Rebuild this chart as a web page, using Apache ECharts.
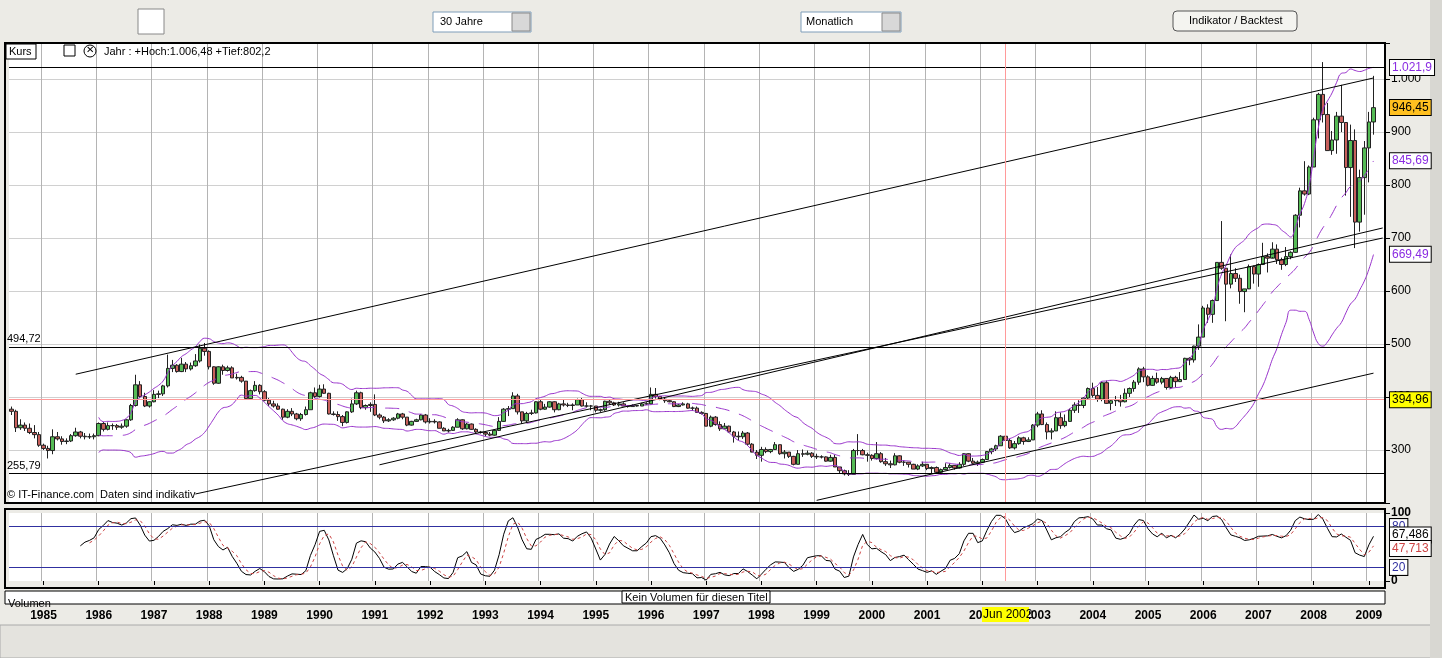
<!DOCTYPE html>
<html>
<head>
<meta charset="utf-8">
<script src="https://cdn.jsdelivr.net/npm/echarts@6/dist/echarts.min.js"></script>
<style>
html,body{margin:0;padding:0;background:#ecebe6;}
#chart{width:1442px;height:658px;}
</style>
</head>
<body>
<div id="chart"></div>
<script>
// Monatskerzen Jun 1984 - Feb 2009 (Open = Vormonats-Close)
var firstOpen = 377;
var closes = [
 373,342,347,341,333,329,309,
 303,299,325,321,316,317,327,334,326,325,325,327,
 350,339,346,346,343,345,357,384,423,401,383,391,
 405,406,421,454,460,448,462,453,459,468,492,486,
 457,426,457,450,455,436,437,430,397,412,422,410,
 394,387,383,377,362,373,368,359,367,376,408,401,
 415,407,368,367,363,352,372,387,408,380,384,386,
 366,362,355,357,360,368,362,347,354,357,366,353,
 354,353,341,336,337,343,357,340,349,339,334,333,
 330,328,337,354,377,378,402,372,355,369,370,391,
 377,381,391,376,387,385,384,385,395,383,383,383,
 375,376,392,389,385,387,383,382,384,383,387,387,
 405,401,396,393,391,382,385,387,379,379,371,369,
 345,362,348,340,345,334,326,325,332,311,296,290,
 301,297,301,310,293,296,288,273,293,292,294,288,
 287,287,279,286,268,261,255,254,299,299,291,290,
 284,293,278,274,272,289,277,277,273,264,270,273,
 265,267,258,263,267,271,266,273,293,279,275,277,
 282,297,302,308,326,318,304,312,323,316,319,347,
 368,348,334,336,361,346,354,375,385,384,398,416,
 403,396,427,388,393,395,391,407,416,428,453,438,
 422,435,428,435,418,437,429,433,473,470,496,513,
 568,556,582,654,643,613,633,624,599,604,646,632,
 650,665,662,679,659,650,665,673,743,789,783,834,
 923,971,933,865,885,930,918,833,884,730,814,870,
 919,946];
var highs = [
 382,376,358,352,350,347,334,
 312,308,339,334,326,322,330,342,336,332,331,331,
 352,353,352,350,349,350,358,387,442,430,408,392,
 413,412,423,480,470,462,474,466,465,481,499,502,
 488,458,458,461,459,458,444,440,430,414,430,424,
 413,398,393,388,378,377,379,370,370,382,410,418,
 423,424,408,373,373,366,373,397,412,410,386,390,
 405,369,364,360,362,370,370,362,355,359,368,368,
 360,358,354,343,340,345,360,358,351,350,341,336,
 335,334,338,362,379,383,409,406,372,372,376,392,
 396,387,392,392,389,396,389,388,397,398,390,385,
 383,378,393,396,391,391,390,384,386,385,389,390,
 418,417,402,399,395,392,387,390,389,382,382,373,
 370,365,364,354,351,346,336,335,336,334,313,300,
 306,305,302,315,310,300,296,289,300,301,299,296,
 293,290,288,291,291,268,263,262,302,330,302,295,
 292,315,296,285,280,294,290,281,277,274,273,278,
 273,269,269,265,275,275,270,277,294,294,285,280,
 284,298,304,310,328,331,321,317,326,325,324,349,
 372,375,352,341,373,371,367,378,390,394,400,418,
 427,419,429,431,396,402,404,416,418,432,456,457,
 441,440,446,438,435,440,440,447,474,475,497,537,
 572,575,584,654,732,643,669,643,631,604,650,648,
 652,691,671,692,688,663,683,675,745,795,845,837,
 927,974,1032,955,902,938,989,918,914,905,829,883,
 938,1006];
var lows = [
 366,334,338,336,330,322,306,
 300,284,292,318,310,311,315,325,322,320,321,320,
 326,335,337,338,338,340,342,355,382,398,381,380,
 390,398,402,418,447,446,447,447,450,457,465,478,
 452,423,425,442,448,436,433,427,395,395,410,405,
 392,383,380,376,357,360,364,356,355,365,376,398,
 399,406,367,365,355,345,350,370,385,377,376,372,
 364,358,351,353,355,358,358,345,346,353,356,350,
 350,350,341,336,333,336,343,338,339,338,331,331,
 326,326,327,336,353,364,378,367,350,352,366,369,
 375,376,380,371,375,382,381,375,385,382,380,375,
 371,372,374,386,383,382,383,380,382,382,383,385,
 386,397,394,389,390,381,381,384,378,374,371,367,
 345,343,346,336,340,332,314,318,321,308,297,283,
 278,294,294,300,291,284,285,271,273,287,290,285,
 283,284,278,278,268,256,252,251,254,290,290,278,
 280,282,276,270,266,271,275,270,267,264,262,268,
 262,256,255,256,262,265,263,265,270,277,272,270,
 276,282,292,298,308,318,302,301,310,310,315,319,
 343,347,320,320,336,340,343,353,370,370,379,396,
 399,391,392,387,375,383,382,390,400,410,423,428,
 420,421,425,424,414,415,418,429,433,460,465,489,
 513,540,540,582,640,543,605,617,576,560,605,614,
 608,650,635,664,651,640,647,660,672,720,780,781,
 834,888,918,865,857,859,900,780,740,681,712,744,
 805,895];

var months = [];
for (var i = 0; i < closes.length + 2; i++) {
  var y = 1984 + Math.floor((i + 5) / 12), m = (i + 5) % 12 + 1;
  months.push(y + '-' + (m < 10 ? '0' + m : m));
}

var candles = closes.map(function (c, i) {
  var o = i === 0 ? firstOpen : closes[i - 1];
  return [o, c, lows[i], highs[i]];
});

// Bollinger 20 / 2
var mid = [], up = [], dn = [];
for (var i = 0; i < closes.length; i++) {
  if (i < 19) { mid.push('-'); up.push('-'); dn.push('-'); continue; }
  var s = 0, q = 0;
  for (var j = i - 19; j <= i; j++) s += closes[j];
  var mean = s / 20;
  for (var j = i - 19; j <= i; j++) q += (closes[j] - mean) * (closes[j] - mean);
  var sd = Math.sqrt(q / 20);
  mid.push(mean); up.push(mean + 2 * sd); dn.push(mean - 2 * sd);
}

// Stochastik 14 / 3 / 3
var rawK = [];
for (var i = 0; i < closes.length; i++) {
  if (i < 13) { rawK.push(null); continue; }
  var hh = -1e9, ll = 1e9;
  for (var j = i - 13; j <= i; j++) { hh = Math.max(hh, highs[j]); ll = Math.min(ll, lows[j]); }
  rawK.push((closes[i] - ll) / (hh - ll) * 100);
}
function sma(arr, n) {
  return arr.map(function (v, i) {
    if (i < n - 1) return '-';
    var s = 0;
    for (var j = i - n + 1; j <= i; j++) { if (arr[j] === null || arr[j] === '-') return '-'; s += arr[j]; }
    return s / n;
  });
}
var stK = sma(rawK, 3), stD = sma(stK, 3);

var isJan = function (idx, val) { return /-01$/.test(val); };

var chart = echarts.init(document.getElementById('chart'));

function box(val, txt, color, bg) {
  return {
    yAxis: val, lineStyle: {color: 'rgba(0,0,0,0)'},
    label: {show: true, position: 'end', distance: 5, formatter: txt, color: color, opacity: 1,
      backgroundColor: bg || '#fff', borderColor: '#000', borderWidth: 1, padding: [2, 2, 1, 2],
      fontSize: 12, fontFamily: 'Liberation Sans'}
  };
}

chart.setOption({
  animation: false,
  backgroundColor: '#ecebe6',
  textStyle: {fontFamily: 'Liberation Sans'},
  grid: [
    {left: 9, right: 57, top: 43, bottom: 155, show: true, backgroundColor: '#fff', borderWidth: 0},
    {left: 9, right: 57, top: 513, bottom: 77, show: true, backgroundColor: '#fff', borderWidth: 0}
  ],
  xAxis: [
    {type: 'category', data: months, gridIndex: 0, axisLine: {show: false}, axisTick: {show: false},
      axisLabel: {show: false}, splitLine: {show: true, interval: isJan, lineStyle: {color: '#b4b4b4'}}},
    {type: 'category', data: months, gridIndex: 1, axisLine: {show: false},
      axisTick: {show: true, interval: isJan, alignWithLabel: true, length: 4, lineStyle: {color: '#000'}},
      axisLabel: {interval: isJan, margin: 29, fontWeight: 'bold', fontSize: 12, color: '#000',
        formatter: function (v) { return v.slice(0, 4); }},
      splitLine: {show: true, interval: isJan, lineStyle: {color: '#b4b4b4'}}}
  ],
  yAxis: [
    {type: 'value', gridIndex: 0, position: 'right', min: 200, max: 1068, interval: 100,
      axisLine: {show: false}, axisTick: {show: true, length: 5, lineStyle: {color: '#000'}},
      axisLabel: {color: '#000', fontSize: 12, margin: 6,
        formatter: function (v) { if (v < 300 || v % 100) return ''; return v === 1000 ? '1.000' : v; }},
      splitLine: {lineStyle: {color: '#d0d0d0'}}},
    {type: 'value', gridIndex: 1, position: 'right', min: 0, max: 100, interval: 100,
      axisLine: {show: false}, axisTick: {show: true, length: 5, lineStyle: {color: '#000'}},
      axisLabel: {color: '#000', fontSize: 12, fontWeight: 'bold', margin: 6}, splitLine: {show: false}}
  ],
  series: [
    {type: 'candlestick', name: 'Kurs', data: candles, barWidth: 4, clip: false,
      itemStyle: {color: '#55bb55', color0: '#c8605c', borderColor: '#222', borderColor0: '#222', borderWidth: 1},
      markLine: {
        symbol: 'none', silent: true, animation: false,
        lineStyle: {color: '#000', width: 1, type: 'solid'}, label: {show: false},
        data: [
          [{coord: ['1985-08', 443]}, {coord: ['2009-02', 1002]}],
          [{coord: ['1991-02', 272]}, {coord: ['2009-04', 719]}],
          [{coord: ['1987-10', 217]}, {coord: ['2009-04', 700]}],
          [{coord: ['1999-01', 205]}, {coord: ['2009-02', 445]}],
          {yAxis: 494.72, label: {show: true, position: 'insideStartTop', distance: [-2, 2], formatter: '494,72', color: '#000', fontSize: 11}},
          {yAxis: 255.79, label: {show: true, position: 'insideStartTop', distance: [-2, 2], formatter: '255,79', color: '#000', fontSize: 11}},
          {yAxis: 1021.9, label: {show: false}},
          {yAxis: 394.96, lineStyle: {color: '#ff9a9a'}},
          {xAxis: '2002-06', lineStyle: {color: '#ff9a9a'}},
          box(1021.9, '1.021,9', '#8a2be2'),
          box(946.45, '946,45', '#000', '#ffc020'),
          box(845.69, '845,69', '#8a2be2'),
          box(669.49, '669,49', '#8a2be2'),
          box(394.96, '394,96', '#000', '#ffff00')
        ]
      }},
    {type: 'line', data: up, symbol: 'none', smooth: true, lineStyle: {color: '#9933cc', width: 1}},
    {type: 'line', data: dn, symbol: 'none', smooth: true, lineStyle: {color: '#9933cc', width: 1}},
    {type: 'line', data: mid, symbol: 'none', smooth: true, lineStyle: {color: '#9933cc', width: 1, type: [14, 10]}},
    {type: 'line', xAxisIndex: 1, yAxisIndex: 1, data: stK, symbol: 'none', clip: false, lineStyle: {color: '#000', width: 1},
      markLine: {
        symbol: 'none', silent: true, animation: false, label: {show: false},
        lineStyle: {color: '#3030a0', width: 1, type: 'solid'},
        data: [
          {yAxis: 80}, {yAxis: 20},
          {xAxis: '2002-06', lineStyle: {color: '#ff9a9a'}},
          box(80, '80', '#3030a0'),
          box(67.486, '67,486', '#000'),
          box(47.713, '47,713', '#cc4444'),
          box(20, '20', '#3030a0')
        ]
      }},
    {type: 'line', xAxisIndex: 1, yAxisIndex: 1, data: stD, symbol: 'none', lineStyle: {color: '#cc4444', width: 1, type: [3, 3]}}
  ],
  graphic: [
    // Rahmen
    {type: 'rect', shape: {x: 5, y: 43, width: 1380, height: 460}, style: {fill: 'none', stroke: '#000', lineWidth: 2}, z: 100},
    {type: 'rect', shape: {x: 5, y: 509, width: 1380, height: 79}, style: {fill: 'none', stroke: '#000', lineWidth: 2}, z: 100},
    {type: 'rect', shape: {x: 5, y: 591, width: 1380, height: 13}, style: {fill: '#fff', stroke: '#000', lineWidth: 1}, z: 100},
    {type: 'text', x: 8, y: 598, style: {text: 'Volumen', fontSize: 11, fill: '#000'}, z: 101},
    {type: 'rect', shape: {x: 622, y: 591, width: 148, height: 12}, style: {fill: '#fff', stroke: '#000'}, z: 101},
    {type: 'text', x: 625, y: 592, style: {text: 'Kein Volumen für diesen Titel', fontSize: 11, fill: '#000'}, z: 102},
    // Kopfzeile
    {type: 'rect', shape: {x: 6, y: 44, width: 30, height: 15}, style: {fill: '#fff', stroke: '#000'}, z: 101},
    {type: 'text', x: 9, y: 46, style: {text: 'Kurs', fontSize: 11, fill: '#000'}, z: 102},
    {type: 'rect', shape: {x: 64, y: 45, width: 11, height: 11}, style: {fill: '#fff', stroke: '#000'}, z: 101},
    {type: 'circle', shape: {cx: 90, cy: 51, r: 6}, style: {fill: '#fff', stroke: '#000'}, z: 101},
    {type: 'text', x: 86, y: 45, style: {text: '✕', fontSize: 10, fill: '#000'}, z: 102},
    {type: 'text', x: 104, y: 46, style: {text: 'Jahr : +Hoch:1.006,48 +Tief:802,2', fontSize: 11, fill: '#000'}, z: 102},
    {type: 'text', x: 7, y: 489, style: {text: '© IT-Finance.com  Daten sind indikativ', fontSize: 11, fill: '#000'}, z: 102},
    // Crosshair Datum
    {type: 'rect', shape: {x: 982, y: 607, width: 47, height: 15}, style: {fill: '#ffff00'}, z: 101},
    {type: 'text', x: 983, y: 609, style: {text: 'Jun 2002', fontSize: 12, fill: '#000'}, z: 102},
    // Werkzeugleiste oben
    {type: 'rect', shape: {x: 0, y: 0, width: 1442, height: 40}, style: {fill: '#ecebe6'}},
    {type: 'rect', shape: {x: 138, y: 9, width: 26, height: 25}, style: {fill: '#fff', stroke: '#888'}},
    {type: 'rect', shape: {x: 433, y: 12, width: 98, height: 20}, style: {fill: '#fff', stroke: '#7f9db9'}},
    {type: 'text', x: 440, y: 16, style: {text: '30 Jahre', fontSize: 11, fill: '#000'}},
    {type: 'rect', shape: {x: 512, y: 13, width: 18, height: 18}, style: {fill: '#d8d8d8', stroke: '#888'}},
    {type: 'rect', shape: {x: 801, y: 12, width: 100, height: 20}, style: {fill: '#fff', stroke: '#7f9db9'}},
    {type: 'text', x: 806, y: 16, style: {text: 'Monatlich', fontSize: 11, fill: '#000'}},
    {type: 'rect', shape: {x: 882, y: 13, width: 18, height: 18}, style: {fill: '#d8d8d8', stroke: '#888'}},
    {type: 'rect', shape: {x: 1173, y: 11, width: 124, height: 20, r: 4}, style: {fill: '#f4f4f0', stroke: '#555'}},
    {type: 'text', x: 1189, y: 15, style: {text: 'Indikator / Backtest', fontSize: 11, fill: '#000'}},
    // Werkzeugleiste unten
    {type: 'rect', shape: {x: 0, y: 625, width: 1432, height: 33}, style: {fill: '#e4e3de', stroke: '#aaa'}},
    {type: 'rect', shape: {x: 1430, y: 0, width: 12, height: 658}, style: {fill: '#d8d7d2'}}
  ]
});
</script>
</body>
</html>
